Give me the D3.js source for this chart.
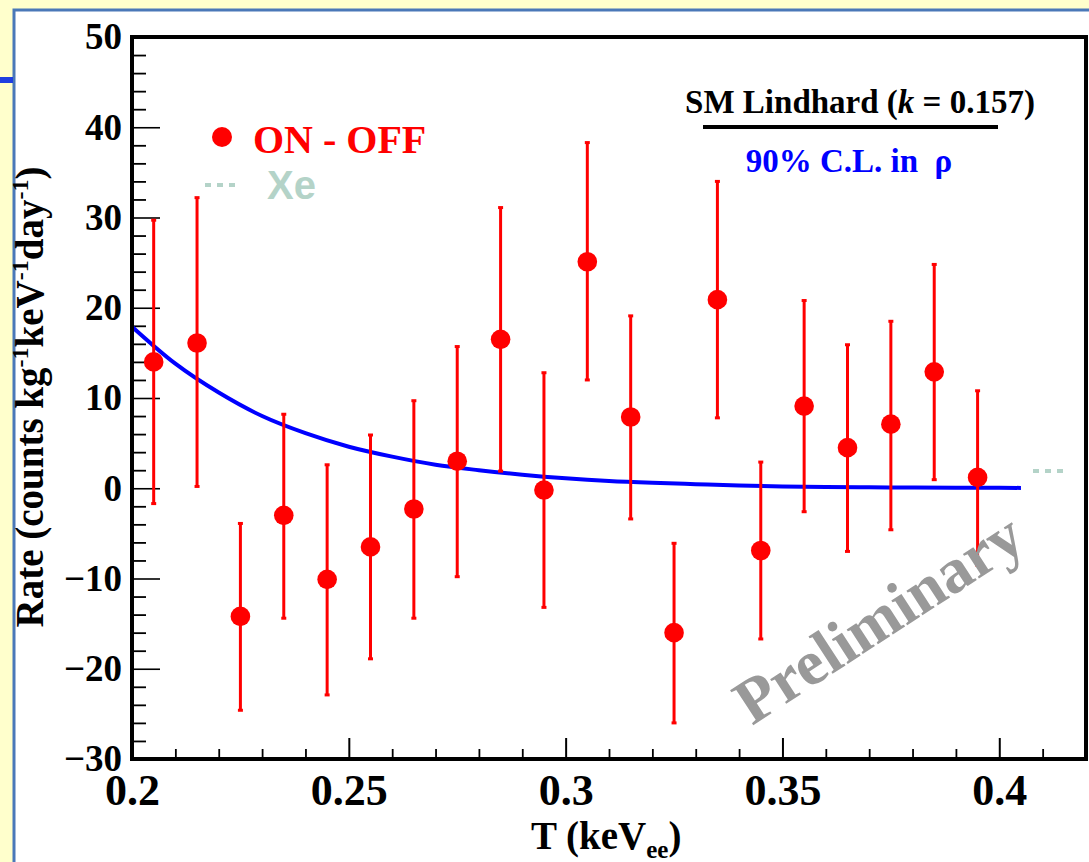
<!DOCTYPE html>
<html>
<head>
<meta charset="utf-8">
<script src="https://cdn.jsdelivr.net/npm/d3@7"></script>
<style>
  html, body { margin: 0; padding: 0; background: #ffffcc; }
  svg { display: block; }
</style>
</head>
<body>
<svg id="chart" width="1089" height="862"></svg>
<script>
// Bin centres of the ON - OFF spectrum (keVee)
const energy = [0.205, 0.215, 0.225, 0.235, 0.245, 0.255, 0.265, 0.275, 0.285, 0.295,
                0.305, 0.315, 0.325, 0.335, 0.345, 0.355, 0.365, 0.375, 0.385, 0.395];
// Measured rate and the ends of each error bar (counts kg^-1 keV^-1 day^-1)
const rate    = [14.0, 16.1, -14.2, -3.0, -10.1, -6.5, -2.3, 3.0, 16.5, -0.2,
                 25.1, 7.9, -16.0, 20.9, -6.9, 9.1, 4.5, 7.1, 12.9, 1.2];
const errHigh = [29.7, 32.2, -3.9, 8.2, 2.6, 5.9, 9.7, 15.7, 31.1, 12.8,
                 38.3, 19.1, -6.1, 34.0, 2.9, 20.8, 15.9, 18.5, 24.8, 10.8];
const errLow  = [-1.7, 0.2, -24.6, -14.4, -22.9, -18.9, -14.4, -9.8, 1.9, -13.2,
                 12.0, -3.4, -26.0, 7.8, -16.7, -2.6, -7.0, -4.6, 0.95, -8.5];

// SM Lindhard (k = 0.157) expectation at the 90% C.L. limit
const curveT    = [0.200, 0.210, 0.220, 0.230, 0.240, 0.250, 0.260, 0.270, 0.280, 0.290, 0.300,
                   0.310, 0.320, 0.330, 0.340, 0.350, 0.360, 0.370, 0.380, 0.390, 0.400, 0.405];
const curveRate = [17.9, 13.8, 10.6, 8.0, 6.1, 4.6, 3.5, 2.6, 2.0, 1.5, 1.1,
                   0.8, 0.6, 0.45, 0.3, 0.2, 0.15, 0.1, 0.08, 0.06, 0.05, 0.04];

// Axis ticks
const xMajor = [0.2, 0.25, 0.3, 0.35, 0.4];
const xMinor = [0.21, 0.22, 0.23, 0.24, 0.26, 0.27, 0.28, 0.29, 0.31, 0.32, 0.33, 0.34,
                0.36, 0.37, 0.38, 0.39, 0.41];
const yMajor = [-30, -20, -10, 0, 10, 20, 30, 40, 50];
const yMinor = [-28, -26, -24, -22, -18, -16, -14, -12, -8, -6, -4, -2, 2, 4, 6, 8,
                12, 14, 16, 18, 22, 24, 26, 28, 32, 34, 36, 38, 42, 44, 46, 48];

const svg = d3.select("#chart");
const serif = "'Liberation Serif', 'Times New Roman', serif";
const sans = "'Liberation Sans', Arial, sans-serif";

// Slide background: pale yellow with a white panel framed in blue
svg.append("rect").attr("width", 1089).attr("height", 862).attr("fill", "#ffffcc");
svg.append("rect").attr("x", 14).attr("y", 10).attr("width", 1100).attr("height", 900)
   .attr("fill", "#ffffff").attr("stroke", "#4a78b8").attr("stroke-width", 3);
svg.append("rect").attr("x", 0).attr("y", 77).attr("width", 13).attr("height", 6).attr("fill", "#1f3fe0");

const plotL = 132, plotR = 1086, plotT = 37, plotB = 759;
const x = d3.scaleLinear().domain([0.2, 0.42]).range([plotL, plotR]);
const y = d3.scaleLinear().domain([-30, 50]).range([plotB, plotT]);

// Axis ticks (drawn inward, ROOT style)
function styleTicks(w) {
  return g => {
    g.select(".domain").remove();
    g.selectAll("line").attr("stroke", "#000").attr("stroke-width", w);
  };
}
svg.append("g").attr("transform", `translate(${plotL},0)`)
   .call(d3.axisLeft(y).tickValues(yMinor).tickSize(-14).tickFormat(""))
   .call(styleTicks(1.8));
svg.append("g").attr("transform", `translate(${plotL},0)`)
   .call(d3.axisLeft(y).tickValues(yMajor).tickSize(-28).tickFormat(""))
   .call(styleTicks(1.6));
svg.append("g").attr("transform", `translate(0,${plotB})`)
   .call(d3.axisBottom(x).tickValues(xMinor).tickSize(-10).tickFormat(""))
   .call(styleTicks(1.8));
svg.append("g").attr("transform", `translate(0,${plotB})`)
   .call(d3.axisBottom(x).tickValues(xMajor).tickSize(-21).tickFormat(""))
   .call(styleTicks(2));

// Tick labels
const yLab = svg.append("g").attr("transform", `translate(${plotL},0)`)
   .call(d3.axisLeft(y).tickValues(yMajor).tickSize(0).tickPadding(10)
         .tickFormat(d => d < 0 ? "\u2212" + Math.abs(d) : d));
yLab.select(".domain").remove();
yLab.selectAll("text").attr("font-family", serif).attr("font-weight", "bold")
    .attr("font-size", 37).attr("fill", "#000");

const xLab = svg.append("g").attr("transform", `translate(0,${plotB})`)
   .call(d3.axisBottom(x).tickValues(xMajor).tickSize(0).tickPadding(15)
         .tickFormat(d => d3.format("")(d)));
xLab.select(".domain").remove();
xLab.selectAll("text").attr("font-family", serif).attr("font-weight", "bold")
    .attr("font-size", 44).attr("fill", "#000");

// Blue expectation curve
svg.append("path")
   .datum(curveT.map((t, i) => [t, curveRate[i]]))
   .attr("fill", "none").attr("stroke", "#0000ff").attr("stroke-width", 4)
   .attr("d", d3.line().x(d => x(d[0])).y(d => y(d[1])).curve(d3.curveMonotoneX));

// ON - OFF points with error bars
const pts = energy.map((t, i) => ({ t, v: rate[i], hi: errHigh[i], lo: errLow[i] }));
const bars = svg.append("g").attr("stroke", "#ff0000").attr("stroke-width", 3);
bars.selectAll("line.bar").data(pts).join("line").attr("class", "bar")
    .attr("x1", d => x(d.t)).attr("x2", d => x(d.t))
    .attr("y1", d => y(d.hi)).attr("y2", d => y(d.lo));
bars.selectAll("line.capH").data(pts).join("line").attr("class", "capH")
    .attr("x1", d => x(d.t) - 2.5).attr("x2", d => x(d.t) + 2.5)
    .attr("y1", d => y(d.hi)).attr("y2", d => y(d.hi));
bars.selectAll("line.capL").data(pts).join("line").attr("class", "capL")
    .attr("x1", d => x(d.t) - 2.5).attr("x2", d => x(d.t) + 2.5)
    .attr("y1", d => y(d.lo)).attr("y2", d => y(d.lo));
svg.append("g").selectAll("circle").data(pts).join("circle")
   .attr("cx", d => x(d.t)).attr("cy", d => y(d.v)).attr("r", 9.8).attr("fill", "#ff0000");

// Frame
svg.append("rect").attr("x", plotL).attr("y", plotT).attr("width", plotR - plotL).attr("height", plotB - plotT)
   .attr("fill", "none").attr("stroke", "#000").attr("stroke-width", 4);

// Legend
svg.append("circle").attr("cx", 222).attr("cy", 137).attr("r", 10).attr("fill", "#ff0000");
svg.append("text").attr("x", 253).attr("y", 153).text("ON - OFF")
   .attr("font-family", serif).attr("font-weight", "bold").attr("font-size", 40).attr("fill", "#ff0000");
const xeColor = "#b4d3c8";
svg.append("line").attr("x1", 205).attr("x2", 236).attr("y1", 185).attr("y2", 185)
   .attr("stroke", xeColor).attr("stroke-width", 4).attr("stroke-dasharray", "6,6");
svg.append("text").attr("x", 267).attr("y", 199).text("Xe")
   .attr("font-family", sans).attr("font-weight", "bold").attr("font-size", 40).attr("fill", xeColor);
svg.append("line").attr("x1", 1033).attr("x2", 1064).attr("y1", 471).attr("y2", 471)
   .attr("stroke", xeColor).attr("stroke-width", 4).attr("stroke-dasharray", "6,6");

// Model label
const sm = svg.append("text").attr("x", 860).attr("y", 113).attr("text-anchor", "middle")
   .attr("font-family", serif).attr("font-weight", "bold").attr("font-size", 33).attr("fill", "#000");
sm.append("tspan").text("SM Lindhard (");
sm.append("tspan").attr("font-style", "italic").text("k");
sm.append("tspan").text(" = 0.157)");
svg.append("line").attr("x1", 703).attr("x2", 998).attr("y1", 127).attr("y2", 127)
   .attr("stroke", "#000").attr("stroke-width", 4);
svg.append("text").attr("x", 849).attr("y", 172).attr("text-anchor", "middle")
   .attr("font-family", serif).attr("font-weight", "bold").attr("font-size", 33).attr("fill", "#0000ff")
   .attr("xml:space", "preserve").text("90% C.L. in  \u03c1");

// Axis titles
const yt = svg.append("text").attr("transform", "translate(43,397) rotate(-90)")
   .attr("text-anchor", "middle").attr("font-family", serif).attr("font-weight", "bold")
   .attr("font-size", 39).attr("fill", "#000");
yt.append("tspan").text("Rate (counts kg");
yt.append("tspan").attr("font-size", 24).attr("dy", -15).text("-1");
yt.append("tspan").attr("dy", 15).text("keV");
yt.append("tspan").attr("font-size", 24).attr("dy", -15).text("-1");
yt.append("tspan").attr("dy", 15).text("day");
yt.append("tspan").attr("font-size", 24).attr("dy", -15).text("-1");
yt.append("tspan").attr("dy", 15).text(")");

const xt = svg.append("text").attr("x", 531).attr("y", 849)
   .attr("font-family", serif).attr("font-weight", "bold").attr("font-size", 39).attr("fill", "#000");
xt.append("tspan").text("T (keV");
xt.append("tspan").attr("font-size", 25).attr("dy", 9).text("ee");
xt.append("tspan").attr("dy", -9).text(")");

// Watermark
svg.append("text").attr("transform", "translate(752,726) rotate(-33)")
   .attr("font-family", serif).attr("font-weight", "bold").attr("font-size", 64)
   .attr("fill", "#999999").text("Preliminary");
</script>
</body>
</html>
